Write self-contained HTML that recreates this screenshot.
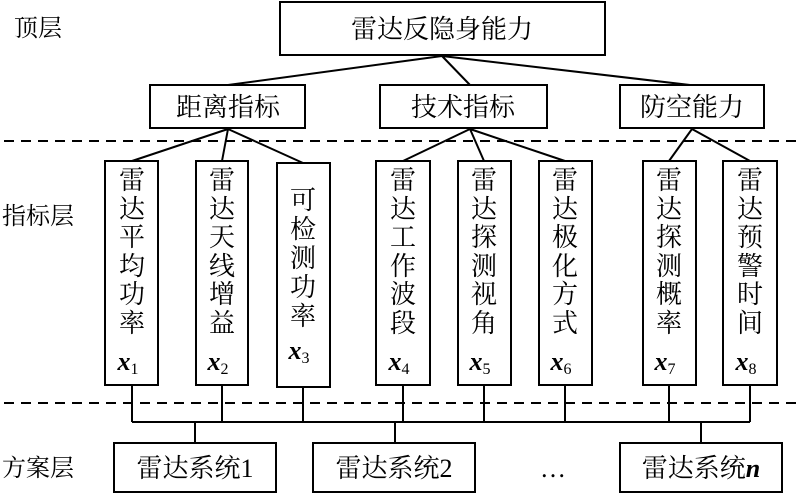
<!DOCTYPE html>
<html><head><meta charset="utf-8"><style>
html,body{margin:0;padding:0;background:#fff}
svg{display:block}
text{font-family:"Liberation Serif","Noto Serif CJK SC","Noto Sans CJK SC",serif;fill:#000}
</style></head><body>
<svg width="800" height="495" viewBox="0 0 800 495" xmlns="http://www.w3.org/2000/svg">
<g fill="none" stroke="#000" stroke-width="2">
<rect x="280" y="2" width="325" height="53"/>
<rect x="150" y="85" width="155" height="43"/>
<rect x="380" y="85" width="167" height="43"/>
<rect x="620" y="85" width="144" height="43"/>
<rect x="105" y="161" width="53" height="224"/>
<rect x="196" y="161" width="52" height="224"/>
<rect x="277" y="163" width="53" height="224"/>
<rect x="376" y="161" width="54" height="224"/>
<rect x="458" y="161" width="53" height="224"/>
<rect x="539" y="161" width="53" height="224"/>
<rect x="643" y="161" width="53" height="224"/>
<rect x="723" y="161" width="54" height="224"/>
<rect x="114" y="443" width="162" height="49"/>
<rect x="313" y="443" width="162" height="49"/>
<rect x="620" y="443" width="162" height="49"/>
<path d="M442 56L228 85M442 56L470 85M442 56L690 85"/>
<path d="M228 129L132 161M228 129L222 161M228 129L303 163"/>
<path d="M470 129L403 161M470 129L484 161M470 129L565 161"/>
<path d="M692 129L669 161M692 129L750 161"/>
<path d="M132 385V422M222 385V422M303 387V422M403 385V422M484 385V422M565 385V422M669 385V422M750 385V422M132 422H750"/>
<path d="M195 422V443M395 422V443M701 422V443"/>
</g>
<g stroke="#000" stroke-width="2" stroke-dasharray="10,7">
<line x1="4" y1="141" x2="800" y2="141"/>
<line x1="4" y1="403" x2="800" y2="403"/>
</g>
<g font-size="24">
<text x="14" y="36">顶层</text>
<text x="2" y="224">指标层</text>
<text x="2" y="476">方案层</text>
</g>
<g font-size="26" text-anchor="middle">
<text x="442" y="38">雷达反隐身能力</text>
<text x="228" y="116">距离指标</text>
<text x="463" y="116">技术指标</text>
<text x="692" y="116">防空能力</text>
<text x="195" y="477">雷达系统1</text>
<text x="394" y="477">雷达系统2</text>
<text x="701" y="477">雷达系统<tspan font-style="italic" font-weight="bold">n</tspan></text>
<text x="553" y="477">…</text>
</g>
<g font-size="26" text-anchor="middle">
<g transform="translate(132,0)"><text y="189">雷</text><text y="218">达</text><text y="246">平</text><text y="275">均</text><text y="303">功</text><text y="332">率</text><text y="370" font-style="italic" font-weight="bold" x="-4">x<tspan font-size="16" font-style="normal" font-weight="normal" dy="4">1</tspan></text></g>
<g transform="translate(222,0)"><text y="189">雷</text><text y="218">达</text><text y="246">天</text><text y="275">线</text><text y="303">增</text><text y="332">益</text><text y="370" font-style="italic" font-weight="bold" x="-4">x<tspan font-size="16" font-style="normal" font-weight="normal" dy="4">2</tspan></text></g>
<g transform="translate(303,0)"><text y="209">可</text><text y="238">检</text><text y="267">测</text><text y="296">功</text><text y="325">率</text><text y="359" font-style="italic" font-weight="bold" x="-4">x<tspan font-size="16" font-style="normal" font-weight="normal" dy="4">3</tspan></text></g>
<g transform="translate(403,0)"><text y="189">雷</text><text y="218">达</text><text y="246">工</text><text y="275">作</text><text y="303">波</text><text y="332">段</text><text y="370" font-style="italic" font-weight="bold" x="-4">x<tspan font-size="16" font-style="normal" font-weight="normal" dy="4">4</tspan></text></g>
<g transform="translate(484,0)"><text y="189">雷</text><text y="218">达</text><text y="246">探</text><text y="275">测</text><text y="303">视</text><text y="332">角</text><text y="370" font-style="italic" font-weight="bold" x="-4">x<tspan font-size="16" font-style="normal" font-weight="normal" dy="4">5</tspan></text></g>
<g transform="translate(565,0)"><text y="189">雷</text><text y="218">达</text><text y="246">极</text><text y="275">化</text><text y="303">方</text><text y="332">式</text><text y="370" font-style="italic" font-weight="bold" x="-4">x<tspan font-size="16" font-style="normal" font-weight="normal" dy="4">6</tspan></text></g>
<g transform="translate(669,0)"><text y="189">雷</text><text y="218">达</text><text y="246">探</text><text y="275">测</text><text y="303">概</text><text y="332">率</text><text y="370" font-style="italic" font-weight="bold" x="-4">x<tspan font-size="16" font-style="normal" font-weight="normal" dy="4">7</tspan></text></g>
<g transform="translate(750,0)"><text y="189">雷</text><text y="218">达</text><text y="246">预</text><text y="275">警</text><text y="303">时</text><text y="332">间</text><text y="370" font-style="italic" font-weight="bold" x="-4">x<tspan font-size="16" font-style="normal" font-weight="normal" dy="4">8</tspan></text></g>
</g>
</svg>
</body></html>
